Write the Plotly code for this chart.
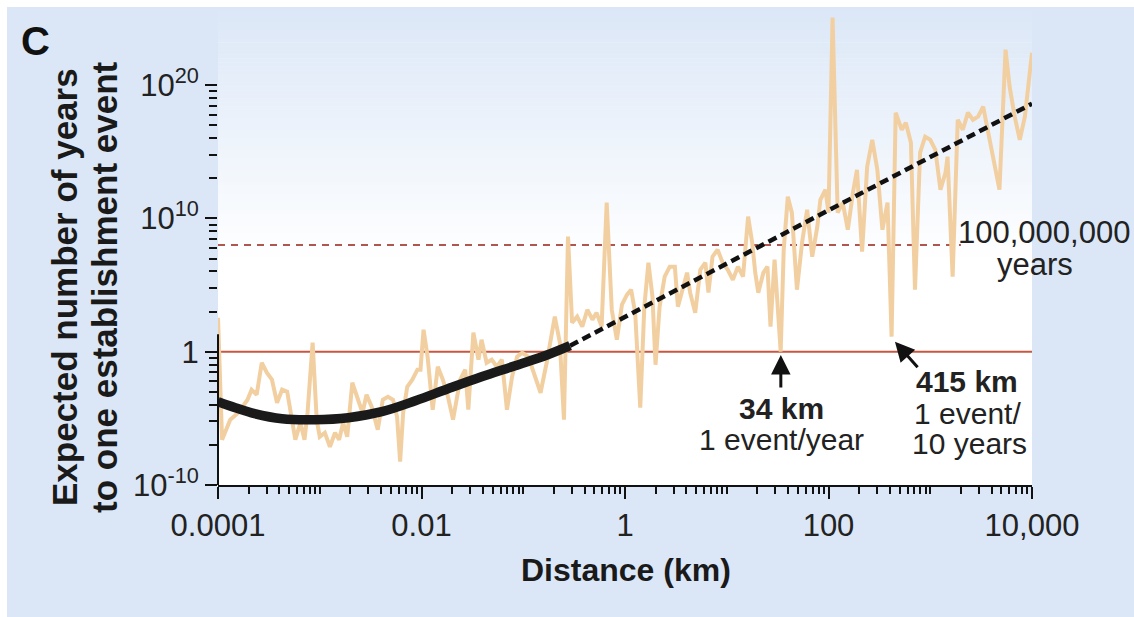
import math
import plotly.graph_objects as go

# ---------------- data ----------------
# noisy simulated series: log10(distance, km) and log10(expected years)
noisy_log_dist = [
    -4.00, -3.96, -3.88, -3.80, -3.71, -3.67, -3.62, -3.57, -3.52, -3.47,
    -3.42, -3.37, -3.32, -3.29, -3.24, -3.19, -3.15, -3.12, -3.07, -3.03,
    -3.00, -2.95, -2.90, -2.85, -2.81, -2.77, -2.73, -2.68, -2.63, -2.58,
    -2.54, -2.49, -2.43, -2.38, -2.33, -2.28, -2.24, -2.21, -2.18, -2.14,
    -2.09, -2.04, -2.01, -1.98, -1.94, -1.89, -1.84, -1.79, -1.74, -1.69,
    -1.62, -1.57, -1.54, -1.49, -1.44, -1.41, -1.36, -1.31, -1.26, -1.21,
    -1.16, -1.11, -1.06, -1.01, -0.95, -0.88, -0.83, -0.77, -0.72, -0.69,
    -0.64, -0.60, -0.56, -0.52, -0.47, -0.42, -0.37, -0.32, -0.28, -0.23,
    -0.18, -0.13, -0.08, -0.03, 0.02, 0.06, 0.10, 0.15, 0.19, 0.23,
    0.27, 0.30, 0.34, 0.39, 0.44, 0.49, 0.52, 0.57, 0.61, 0.64,
    0.69, 0.74, 0.79, 0.82, 0.86, 0.91, 0.96, 1.01, 1.06, 1.11,
    1.16, 1.21, 1.25, 1.28, 1.31, 1.36, 1.40, 1.43, 1.47, 1.53,
    1.56, 1.60, 1.64, 1.69, 1.74, 1.79, 1.84, 1.89, 1.92, 1.97,
    2.00, 2.04, 2.09, 2.14, 2.19, 2.24, 2.28, 2.33, 2.38, 2.43,
    2.48, 2.53, 2.58, 2.62, 2.66, 2.72, 2.76, 2.81, 2.85, 2.90,
    2.95, 3.00, 3.05, 3.10, 3.15, 3.17, 3.22, 3.27, 3.32, 3.37,
    3.42, 3.47, 3.52, 3.57, 3.62, 3.68, 3.74, 3.78, 3.83, 3.88,
    3.93, 3.98, 4.00,
]
noisy_log_years = [
    2.55, -6.60, -5.10, -4.58, -3.60, -2.85, -3.23, -0.83, -1.58, -2.10,
    -3.83, -2.85, -3.00, -4.35, -6.60, -5.33, -6.60, -4.58, 0.68, -5.10,
    -6.38, -6.08, -7.13, -6.08, -6.60, -5.33, -6.38, -2.33, -3.38, -4.58,
    -3.23, -4.13, -5.85, -3.60, -3.38, -3.60, -4.88, -8.25, -4.58, -2.63,
    -2.10, -1.35, -1.35, 1.65, -0.38, -4.35, -1.13, -2.10, -3.38, -5.10,
    -2.10, -1.35, -4.35, 1.43, -0.60, 0.90, -0.83, -0.60, -1.13, -0.60,
    -4.35, -1.88, -0.38, -0.08, -0.38, -1.88, -3.08, -0.83, 1.43, 2.63,
    0.68, -5.10, 8.63, 2.18, 2.63, 1.88, 3.15, 2.40, 2.93, 1.88,
    11.18, 3.15, 0.90, 3.53, 4.28, 4.65, 2.93, -4.20, 3.38, 6.68,
    4.13, -0.98, 3.38, 5.63, 6.38, 6.38, 3.38, 4.88, 5.93, 4.43,
    2.93, 6.15, 6.68, 4.43, 7.13, 7.65, 6.68, 6.15, 5.40, 6.38,
    5.63, 10.13, 8.18, 5.93, 4.43, 5.93, 6.38, 1.88, 6.90, 0.00,
    7.65, 11.63, 10.43, 4.65, 8.18, 10.65, 7.13, 9.38, 11.40, 12.15,
    10.43, 25.06, 10.43, 11.18, 9.15, 11.93, 13.65, 7.50, 13.88, 15.90,
    13.65, 9.15, 11.18, 1.13, 17.93, 16.65, 17.18, 15.68, 4.65, 14.93,
    16.13, 15.90, 15.15, 12.15, 13.43, 14.63, 5.63, 17.40, 16.65, 17.93,
    17.40, 17.63, 18.38, 16.43, 14.63, 12.15, 22.66, 19.88, 17.63, 15.90,
    17.63, 21.38, 22.43,
]

# smooth fitted curve
fit_log_dist = [-4.00, -3.83, -3.64, -3.37, -3.05, -2.72, -2.39, -2.06, -1.74, -1.41, -1.08, -0.76, -0.54]
fit_log_years = [-3.75, -4.20, -4.65, -5.03, -5.10, -4.95, -4.50, -3.68, -2.78, -1.88, -1.05, -0.23, 0.45]

# extrapolated (dashed) part
extrap_log_dist = [-0.54, 4.00]
extrap_log_years = [0.45, 18.60]

# reference levels (years)
one_event_per_year = 1
hundred_million_years = 1e8
ref_dist_full = [1e-4, 1e4]
ref_dist_dashed = [1e-4, 2000]

# highlighted distances (km) and their values (years)
highlight_34_km = 34
highlight_34_years = 10 ** -0.25
highlight_415_km = 415
highlight_415_years = 10 ** 0.75

# axis ticks
x_tickvals = [1e-4, 1e-2, 1, 100, 1e4]
x_ticktext = ["0.0001", "0.01", "1", "100", "10,000"]
y_tickvals = [1e-10, 1, 1e10, 1e20]
y_ticktext = ["10<sup>-10</sup>", "1", "10<sup>10</sup>", "10<sup>20</sup>"]

# ---------------- figure ----------------
FONT = "Liberation Sans, Arial, Helvetica, sans-serif"
BLUE = (219, 231, 247)
BLUE_CSS = "rgb(%d,%d,%d)" % BLUE
TXT = "#222222"

W, H = 1134, 617
ML, MR, MT, MB = 218, 102, 7, 132
PW, PH = W - ML - MR, H - MT - MB


def px_x(px):
    return (px - ML) / PW


def px_y(py):
    return (H - MB - py) / PH


fig = go.Figure()

fig.add_trace(go.Scatter(x=ref_dist_full, y=[one_event_per_year] * 2, mode="lines",
                         line=dict(color="#c9573f", width=2), hoverinfo="skip"))
fig.add_trace(go.Scatter(x=ref_dist_dashed, y=[hundred_million_years] * 2, mode="lines",
                         line=dict(color="#b0564f", width=2, dash="7px,6px"), hoverinfo="skip"))
fig.add_trace(go.Scatter(x=[10 ** v for v in noisy_log_dist], y=[10 ** v for v in noisy_log_years],
                         mode="lines", line=dict(color="#f2cfa0", width=4), hoverinfo="skip"))
fig.add_trace(go.Scatter(x=[10 ** v for v in extrap_log_dist], y=[10 ** v for v in extrap_log_years],
                         mode="lines", line=dict(color="#111111", width=4.5, dash="9px,5px"), hoverinfo="skip"))
fig.add_trace(go.Scatter(x=[10 ** v for v in fit_log_dist], y=[10 ** v for v in fit_log_years],
                         mode="lines", line=dict(color="#1a1a1a", width=9.5, shape="spline"), hoverinfo="skip"))

shapes = []
# gradient in plot area: blue at top fading to white
top_py, end_py = MT, 262
nb = 64
for i in range(nb):
    y0p = top_py + (end_py - top_py) * i / nb
    y1p = top_py + (end_py - top_py) * (i + 1) / nb
    t = (i + 0.5) / nb
    c = tuple(int(round(BLUE[j] + (255 - BLUE[j]) * t)) for j in range(3))
    shapes.append(dict(type="rect", xref="paper", yref="paper", x0=0, x1=1,
                       y0=px_y(y1p), y1=px_y(y0p) + 0.001, line=dict(width=0),
                       fillcolor="rgb(%d,%d,%d)" % c, layer="below"))
# white border strips top / left
shapes.append(dict(type="rect", xref="paper", yref="paper", x0=px_x(-5), x1=px_x(W + 5),
                   y0=px_y(MT), y1=px_y(-5), line=dict(width=0), fillcolor="white", layer="below"))
shapes.append(dict(type="rect", xref="paper", yref="paper", x0=px_x(-5), x1=px_x(7),
                   y0=px_y(H + 5), y1=px_y(-5), line=dict(width=0), fillcolor="white", layer="below"))
# y axis line from 1e-10 to 1e20 only
shapes.append(dict(type="line", xref="paper", yref="y", x0=0, x1=0, y0=-10, y1=20,
                   line=dict(color="#111111", width=2), layer="above"))

x_minor = [k * 10.0 ** n for n in range(-4, 4) for k in range(1, 10)
           if not (k == 1 and n % 2 == 0)]
y_minor = [k ** 10 * 10.0 ** (10 * m) for m in (-1, 0, 1) for k in range(2, 10)]

fig.update_layout(
    width=W, height=H,
    margin=dict(l=ML, r=MR, t=MT, b=MB, pad=0),
    paper_bgcolor=BLUE_CSS, plot_bgcolor="white",
    showlegend=False,
    font=dict(family=FONT, color=TXT, size=31),
    shapes=shapes,
    xaxis=dict(type="log", range=[-4, 4], showgrid=False, zeroline=False,
               showline=True, linecolor="#111111", linewidth=2,
               ticks="outside", ticklen=12, tickwidth=1.5, tickcolor="#111111",
               tickvals=x_tickvals, ticktext=x_ticktext,
               tickfont=dict(family=FONT, size=31, color=TXT),
               minor=dict(tickvals=x_minor, ticks="outside", ticklen=7, tickwidth=1.5,
                          tickcolor="#111111", showgrid=False)),
    yaxis=dict(type="log", range=[-10, -10 + PH / 13.33], showgrid=False, zeroline=False,
               showline=False,
               ticks="outside", ticklen=12, tickwidth=1.5, tickcolor="#111111",
               tickvals=y_tickvals, ticktext=y_ticktext,
               tickfont=dict(family=FONT, size=31, color=TXT),
               minor=dict(tickvals=y_minor, ticks="outside", ticklen=8, tickwidth=1.5,
                          tickcolor="#111111", showgrid=False)),
)

ann = []


def label(text, px, py, size=31, color=TXT, angle=0):
    ann.append(dict(text=text, xref="paper", yref="paper", x=px_x(px), y=px_y(py),
                    xanchor="center", yanchor="middle", showarrow=False, textangle=angle,
                    borderpad=0, font=dict(size=size, color=color, family=FONT)))


# panel letter
label("<b>C</b>", 35, 41, size=40, color="#111111")
# y title (two lines)
label("<b>Expected number of years</b>", 64, 287, size=35, color="#1a1a1a", angle=-90)
label("<b>to one establishment event</b>", 104, 287, size=35, color="#1a1a1a", angle=-90)
# x title
label("<b>Distance (km)</b>", 626, 570, size=32, color="#1a1a1a")
# 100,000,000 years label
label("100,000,000", 1044, 232)
label("years", 1035, 264)
# labels of highlighted points
label("<b>34 km</b>", 781, 408, size=30)
label("1 event/year", 781, 439, size=30)
label("<b>415 km</b>", 967, 381, size=30)
label("1 event/", 967, 413, size=30)
label("10 years", 969, 443, size=30)

# arrows
ann.append(dict(text="", x=math.log10(highlight_34_km), y=math.log10(highlight_34_years),
                xref="x", yref="y", showarrow=True, ax=0, ay=34, arrowhead=2,
                arrowsize=1.3, arrowwidth=3, arrowcolor="#111111", standoff=0))
ann.append(dict(text="", x=math.log10(highlight_415_km) + 0.035,
                y=math.log10(highlight_415_years),
                xref="x", yref="y", showarrow=True, ax=24, ay=27, arrowhead=2,
                arrowsize=1.3, arrowwidth=3, arrowcolor="#111111", standoff=0))

fig.update_layout(annotations=ann)
fig.write_html("out.html")
